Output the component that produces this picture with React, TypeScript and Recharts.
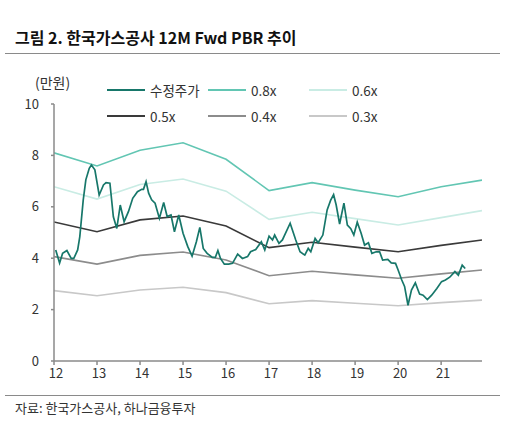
import React from "react";
import { LineChart, Line, XAxis, YAxis } from "recharts";

const priceYears = [
  2012.04, 2012.13, 2012.2, 2012.3, 2012.4, 2012.46, 2012.55, 2012.6, 2012.68, 2012.74,
  2012.82, 2012.87, 2012.95, 2013.05, 2013.15, 2013.21, 2013.3, 2013.38, 2013.46, 2013.54,
  2013.63, 2013.73, 2013.83, 2013.94, 2014.04, 2014.08, 2014.14, 2014.2, 2014.27, 2014.35,
  2014.45, 2014.55, 2014.63, 2014.72, 2014.8, 2014.9, 2015.0, 2015.11, 2015.21, 2015.31,
  2015.39, 2015.47, 2015.56, 2015.68, 2015.75, 2015.81, 2015.87, 2015.96, 2016.06, 2016.15,
  2016.27, 2016.38, 2016.5, 2016.57, 2016.69, 2016.82, 2016.9, 2017.0, 2017.08, 2017.13,
  2017.23, 2017.31, 2017.49, 2017.62, 2017.72, 2017.83, 2017.91, 2017.97, 2018.07, 2018.14,
  2018.25, 2018.35, 2018.43, 2018.5, 2018.56, 2018.64, 2018.74, 2018.82, 2018.9, 2018.97,
  2019.05, 2019.14, 2019.22, 2019.31, 2019.39, 2019.49, 2019.57, 2019.64, 2019.76, 2019.84,
  2019.94, 2020.0, 2020.08, 2020.15, 2020.23, 2020.31, 2020.4, 2020.5, 2020.58, 2020.68,
  2020.78, 2020.9, 2021.01, 2021.1, 2021.2, 2021.32, 2021.4, 2021.49, 2021.56,
];

const priceValues = [
  4.32, 3.81, 4.19, 4.3, 3.99, 3.99, 4.32, 4.84, 6.27, 7.05,
  7.5, 7.63, 7.44, 6.46, 6.85, 6.94, 6.92, 5.61, 5.16, 6.07,
  5.42, 5.81, 6.33, 6.59, 6.68, 6.68, 6.98, 6.53, 6.27, 6.14,
  5.55, 6.17, 5.62, 5.68, 5.03, 5.68, 4.97, 4.45, 4.08, 4.64,
  5.2, 4.38, 4.19, 4.03, 4.03, 4.3, 3.99, 3.77, 3.77, 3.8,
  4.16, 3.99, 4.06, 4.25, 4.34, 4.64, 4.32, 4.86, 4.71, 4.9,
  4.58, 4.71, 5.36, 4.71, 4.25, 4.12, 4.38, 4.25, 4.77, 4.6,
  4.9, 5.88, 6.25, 6.47, 6.07, 5.33, 6.14, 5.29, 5.15, 4.9,
  5.4, 4.97, 4.51, 4.6, 4.19, 4.25, 4.25, 3.93, 3.95, 3.82,
  3.8, 3.54, 3.17, 2.9, 2.17, 2.76, 3.04, 2.6, 2.56, 2.39,
  2.56, 2.82, 3.09, 3.15, 3.26, 3.48, 3.34, 3.73, 3.6,
];

const pbrYears = [2012, 2013, 2014, 2015, 2016, 2017, 2018, 2019, 2020, 2021, 2021.95];
const pbr08 = [8.1, 7.59, 8.2, 8.49, 7.85, 6.63, 6.94, 6.65, 6.39, 6.78, 7.04];
const pbr06 = [6.78, 6.3, 6.87, 7.08, 6.61, 5.51, 5.79, 5.54, 5.29, 5.58, 5.85];
const pbr05 = [5.41, 5.03, 5.49, 5.64, 5.25, 4.41, 4.62, 4.43, 4.25, 4.5, 4.71];
const pbr04 = [4.06, 3.77, 4.11, 4.24, 3.93, 3.32, 3.49, 3.35, 3.22, 3.39, 3.54];
const pbr03 = [2.74, 2.54, 2.76, 2.87, 2.66, 2.23, 2.35, 2.25, 2.15, 2.27, 2.37];

const xTicks = [2012, 2013, 2014, 2015, 2016, 2017, 2018, 2019, 2020, 2021];
const yTicks = [0, 2, 4, 6, 8, 10];

const seriesNames = ["수정주가", "0.8x", "0.6x", "0.5x", "0.4x", "0.3x"];
const seriesColors = ["#17776a", "#62c6b3", "#c9ece4", "#3a3a3a", "#8c8c8c", "#c8c8c8"];

const priceData = priceYears.map((x, i) => ({ x, y: priceValues[i] }));
const pbrData = pbrYears.map((x, i) => ({
  x,
  p08: pbr08[i],
  p06: pbr06[i],
  p05: pbr05[i],
  p04: pbr04[i],
  p03: pbr03[i],
}));
const pbrKeys = ["p08", "p06", "p05", "p04", "p03"];

const FONT = "'Noto Sans CJK KR', 'Noto Sans', sans-serif";

const legendCols = [107, 208, 309];
const legendRows = [90, 116];

export default function App() {
  return (
    <div
      style={{
        position: "absolute",
        left: 0,
        top: 0,
        width: 515,
        height: 444,
        background: "#fff",
        fontFamily: FONT,
        overflow: "hidden",
      }}
    >
      <div
        style={{
          position: "absolute",
          left: 15,
          top: 26,
          fontSize: 16,
          fontWeight: 700,
          color: "#111",
          lineHeight: "22px",
          whiteSpace: "nowrap",
        }}
      >
        그림 2. 한국가스공사 12M Fwd PBR 추이
      </div>
      <div style={{ position: "absolute", left: 5, top: 53, width: 495, height: 1, background: "#8a8a8a" }} />
      <div
        style={{
          position: "absolute",
          left: 35,
          top: 72,
          fontSize: 14,
          color: "#333",
          lineHeight: "20px",
          whiteSpace: "nowrap",
        }}
      >
        (만원)
      </div>
      <div style={{ position: "absolute", left: 0, top: 0 }}>
        <LineChart
          width={515}
          height={444}
          margin={{ top: 104, right: 33, bottom: 53, left: 0 }}
        >
          <XAxis
            type="number"
            dataKey="x"
            domain={[2012, 2021.95]}
            ticks={xTicks}
            allowDataOverflow
            height={30}
            tickFormatter={(v) => String(Math.round(v) % 100)}
            tick={{ fontSize: 13, fill: "#333", fontFamily: FONT, dx: 2 }}
            tickSize={4}
            tickMargin={4}
            stroke="#8a8a8a"
            strokeWidth={1.5}
          />
          <YAxis
            type="number"
            domain={[0, 10]}
            ticks={yTicks}
            width={54}
            tick={{ fontSize: 13, fill: "#333", fontFamily: FONT }}
            tickSize={3}
            tickMargin={12}
            stroke="#8a8a8a"
            strokeWidth={1.5}
          />
          {pbrKeys.map((k, i) => (
            <Line
              key={k}
              data={pbrData}
              dataKey={k}
              stroke={seriesColors[i + 1]}
              strokeWidth={1.6}
              dot={false}
              isAnimationActive={false}
            />
          ))}
          <Line
            data={priceData}
            dataKey="y"
            stroke={seriesColors[0]}
            strokeWidth={1.7}
            dot={false}
            isAnimationActive={false}
          />
        </LineChart>
      </div>
      {seriesNames.map((name, i) => {
        const col = legendCols[i % 3];
        const row = legendRows[Math.floor(i / 3)];
        return (
          <div key={name} style={{ position: "absolute", left: col, top: row - 10, height: 20 }}>
            <div
              style={{
                position: "absolute",
                left: 0,
                top: 9,
                width: 38,
                height: 2,
                background: seriesColors[i],
              }}
            />
            <div
              style={{
                position: "absolute",
                left: 43,
                top: 0,
                fontSize: 13.5,
                lineHeight: "20px",
                color: "#333",
                whiteSpace: "nowrap",
              }}
            >
              {name}
            </div>
          </div>
        );
      })}
      <div style={{ position: "absolute", left: 5, top: 395, width: 495, height: 1, background: "#8a8a8a" }} />
      <div
        style={{
          position: "absolute",
          left: 15,
          top: 398,
          fontSize: 13,
          color: "#333",
          lineHeight: "20px",
          whiteSpace: "nowrap",
        }}
      >
        자료: 한국가스공사, 하나금융투자
      </div>
    </div>
  );
}
